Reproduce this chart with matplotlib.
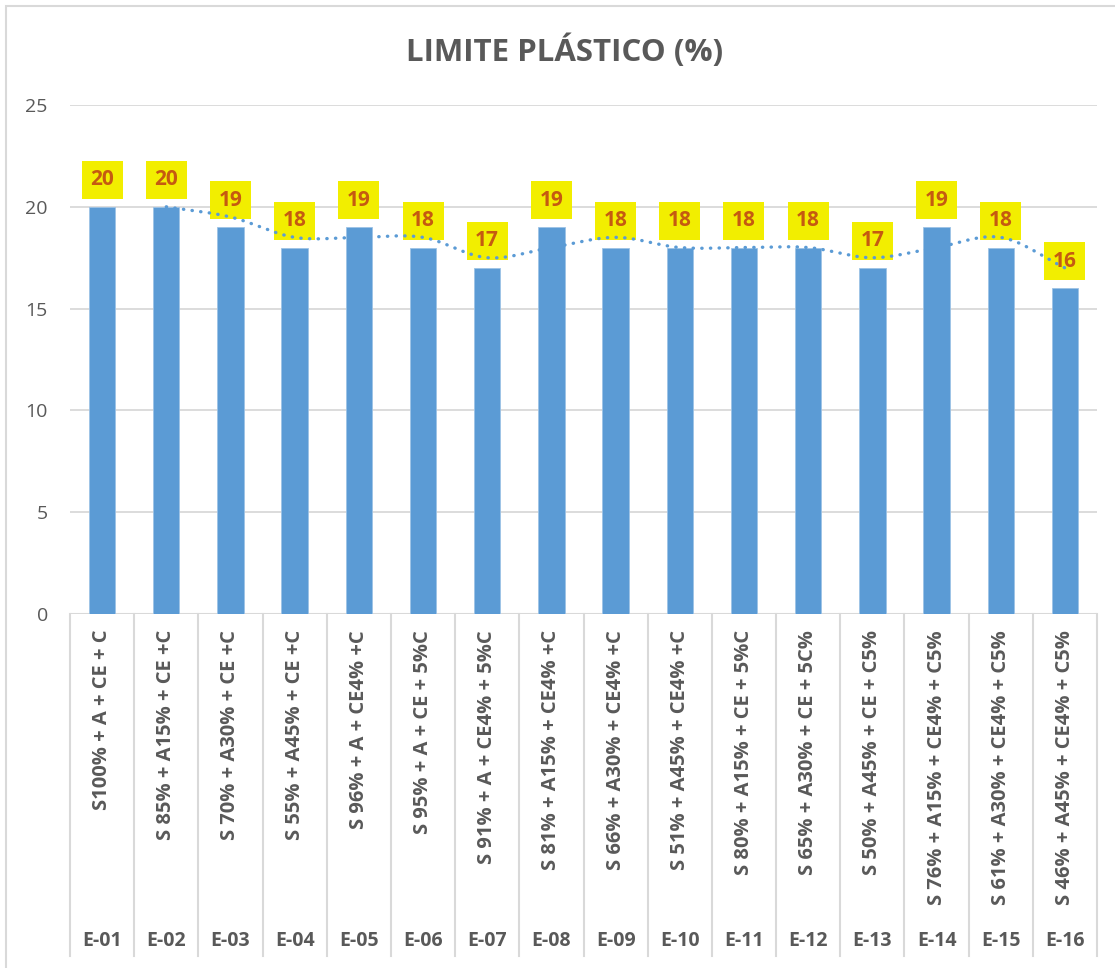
import numpy as np
import pandas as pd
import matplotlib
matplotlib.use("Agg")
import matplotlib.pyplot as plt
import matplotlib.transforms as mtransforms
from matplotlib.patches import Rectangle

# ---- data ----
codes = ["E-01", "E-02", "E-03", "E-04", "E-05", "E-06", "E-07", "E-08",
         "E-09", "E-10", "E-11", "E-12", "E-13", "E-14", "E-15", "E-16"]
mixes = ["S100% + A + CE + C", "S 85% + A15% + CE +C", "S 70% + A30% + CE +C",
         "S 55% + A45% + CE +C", "S 96% + A + CE4% +C", "S 95% + A + CE + 5%C",
         "S 91% + A + CE4% + 5%C", "S 81% + A15% + CE4% +C", "S 66% + A30% + CE4% +C",
         "S 51% + A45% + CE4% +C", "S 80% + A15% + CE + 5%C", "S 65% + A30% + CE + 5C%",
         "S 50% + A45% + CE + C5%", "S 76% + A15% + CE4% + C5%",
         "S 61% + A30% + CE4% + C5%", "S 46% + A45% + CE4% + C5%"]
values = [20, 20, 19, 18, 19, 18, 17, 19, 18, 18, 18, 18, 17, 19, 18, 16]
y_ticks = [0, 5, 10, 15, 20, 25]
title = "LIMITE PLÁSTICO (%)"

# trendline: 2-period moving average (as in the chart)
trend = pd.Series(values, dtype=float).rolling(2).mean()

plt.rcParams['font.family'] = ['Open Sans', 'DejaVu Sans']
GRAY = "#595959"
GRID = "#D9D9D9"
BLUE = "#5B9BD5"

W, H = 1115, 968
fig = plt.figure(figsize=(W / 100, H / 100), dpi=100)
fig.patch.set_facecolor("white")

# chart border
fig.add_artist(Rectangle((6 / W, -0.01), 1.2, (H - 6) / H + 0.01, transform=fig.transFigure,
                         fill=False, edgecolor=GRID, lw=1.5))

left, right, top, bottom = 70, 1097, 105, 614
ax = fig.add_axes([left / W, 1 - bottom / H, (right - left) / W, (bottom - top) / H])

x = np.arange(len(values))
ax.bar(x, values, width=0.41, color=BLUE, zorder=2, edgecolor="#9DC3E6", linewidth=0.6)

ax.set_xlim(-0.5, len(values) - 0.5)
ax.set_ylim(0, 25)
ax.set_yticks(y_ticks)
ax.set_yticklabels([str(t) for t in y_ticks], fontsize=14, color=GRAY)
ax.tick_params(axis="y", length=0, pad=16)
ax.tick_params(axis="x", length=0, labelbottom=False)
ax.grid(axis="y", color=GRID, lw=1.3, zorder=0)
for s in ax.spines.values():
    s.set_visible(False)
ax.axhline(0, color=GRID, lw=1.5, zorder=1)

# smooth trendline (Catmull-Rom through moving-average points)
tx = x[1:].astype(float)
ty = trend.values[1:]
px = np.concatenate([[2 * tx[0] - tx[1]], tx, [2 * tx[-1] - tx[-2]]])
py = np.concatenate([[2 * ty[0] - ty[1]], ty, [2 * ty[-1] - ty[-2]]])
sx, sy = [], []
tt = np.linspace(0, 1, 30)
for i in range(1, len(px) - 2):
    p0, p1, p2, p3 = py[i - 1], py[i], py[i + 1], py[i + 2]
    q0, q1, q2, q3 = px[i - 1], px[i], px[i + 1], px[i + 2]
    t = tt if i == len(px) - 3 else tt[:-1]
    for arr, a0, a1, a2, a3 in ((sx, q0, q1, q2, q3), (sy, p0, p1, p2, p3)):
        arr.extend(0.5 * ((2 * a1) + (-a0 + a2) * t + (2 * a0 - 5 * a1 + 4 * a2 - a3) * t ** 2
                          + (-a0 + 3 * a1 - 3 * a2 + a3) * t ** 3))
ax.plot(sx, sy, color=BLUE, lw=2.4, linestyle=(0, (0.1, 2.5)),
        dash_capstyle="round", zorder=5)

# data labels in yellow boxes
pt = fig.dpi / 72.0
bw, bh, gap = 41 * 0.72, 38 * 0.72, 8 * 0.72  # points
for xi, v in zip(x, values):
    tr = mtransforms.Affine2D().scale(pt) + mtransforms.ScaledTranslation(xi, v, ax.transData)
    ax.add_patch(Rectangle((-bw / 2, gap), bw, bh, transform=tr, facecolor="#F2EE00",
                           edgecolor="none", zorder=4, clip_on=False))
    ax.annotate(str(v), (xi, v), xytext=(0, gap + bh / 2), textcoords="offset points",
                ha="center", va="center", fontsize=15, fontweight="bold",
                color="#C55A11", zorder=6)

# multi-level category axis
xt = ax.get_xaxis_transform()
line_bottom = -(956 - bottom) / (bottom - top)
for b in np.arange(-0.5, len(values), 1.0):
    ax.plot([b, b], [0, line_bottom], color=GRID, lw=1.5, transform=xt, clip_on=False)
for xi, m, c in zip(x, mixes, codes):
    ax.text(xi, -(630 - bottom) / (bottom - top), m, transform=xt, rotation=90,
            ha="center", va="top", fontsize=14.5, fontweight="bold", color=GRAY)
    ax.text(xi, -(941 - bottom) / (bottom - top), c, transform=xt,
            ha="center", va="center", fontsize=14, fontweight="bold", color=GRAY)

fig.text(565 / W, 1 - 51 / H, title, ha="center", va="center", fontsize=22.5,
         fontweight="bold", color=GRAY)

fig.savefig("out.png", dpi=100)
